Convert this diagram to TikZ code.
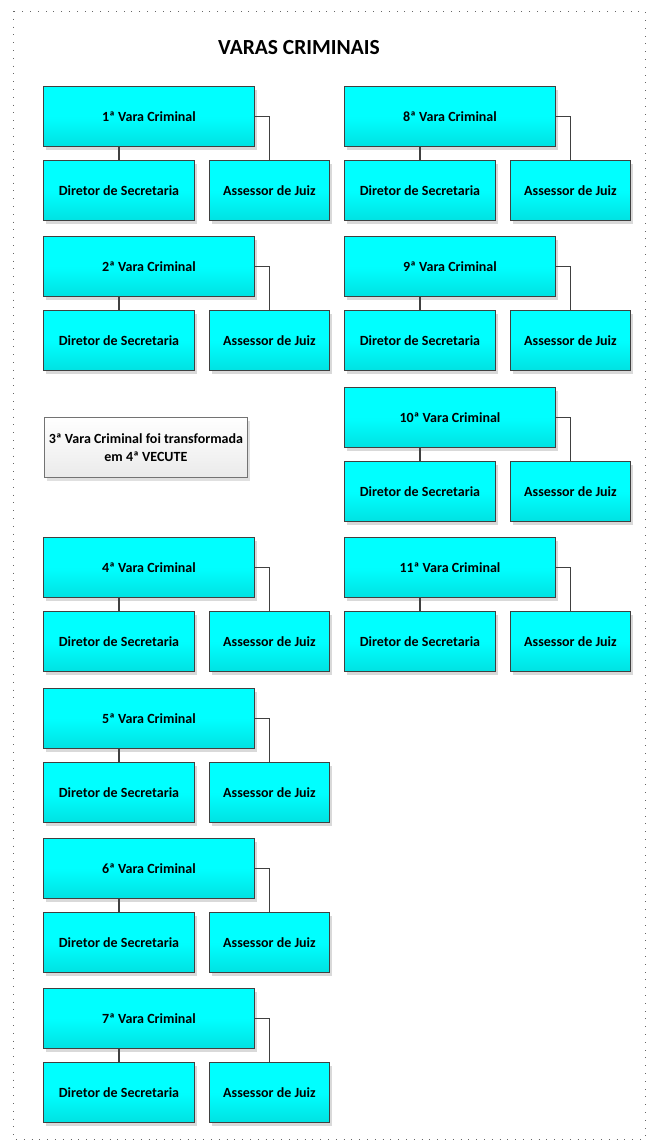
\documentclass[tikz,border=0pt]{standalone}
\usepackage{fontspec}
\setmainfont{Carlito}
\usetikzlibrary{shadows}
\definecolor{boxtop}{RGB}{0,255,255}
\definecolor{boxbot}{RGB}{0,226,226}
\definecolor{edge}{RGB}{64,64,64}
\begin{document}
\begin{tikzpicture}[x=1pt,y=-1pt,
  base/.style={draw=edge,line width=0.9pt,anchor=north west,inner sep=0pt,align=center,
    font=\fontsize{14}{16}\selectfont\bfseries,
    top color=boxtop,bottom color=boxbot,middle color=boxtop,
    drop shadow={shadow xshift=3pt,shadow yshift=-4pt,fill=black!15,opacity=1}},
  vara/.style={base,minimum width=211pt,minimum height=60pt},
  dir/.style={base,minimum width=151pt,minimum height=60pt},
  ass/.style={base,minimum width=120pt,minimum height=60pt},
  note/.style={draw=black!55,line width=0.8pt,anchor=north west,inner sep=0pt,align=center,
    font=\fontsize{14}{18}\selectfont\bfseries,top color=white,bottom color=black!8,
    minimum width=203pt,minimum height=60pt,
    drop shadow={shadow xshift=3pt,shadow yshift=-4pt,fill=black!12,opacity=1}},
  link/.style={draw=edge,line width=1.6pt}]
\useasboundingbox (0,0) rectangle (653,1144);
\draw[black!60,line width=0.8pt,dash pattern=on 0.8pt off 7pt] (13,11) rectangle (645,1139);
\node[font=\fontsize{21.5}{24}\selectfont\bfseries] (title) at (299,48) {VARAS CRIMINAIS};
% left column
\foreach \n/\y in {1/86,2/236,4/537,5/688,6/838,7/988}{
  \node[vara] (v\n) at (43,\y) {\n\textordfeminine\ Vara Criminal};
  \node[dir] (d\n) at (43,\y+74) {Diretor de Secretaria};
  \node[ass] (a\n) at (209,\y+74) {Assessor de Juiz};
  \draw[link] (d\n.north) -- (d\n.north |- v\n.south);
  \draw[link] (v\n.east) -| (a\n.north);
}
% right column
\foreach \n/\y in {8/86,9/236,10/387,11/537}{
  \node[vara] (v\n) at (344,\y) {\n\textordfeminine\ Vara Criminal};
  \node[dir] (d\n) at (344,\y+74) {Diretor de Secretaria};
  \node[ass] (a\n) at (510,\y+74) {Assessor de Juiz};
  \draw[link] (d\n.north) -- (d\n.north |- v\n.south);
  \draw[link] (v\n.east) -| (a\n.north);
}
\node[note] (n3) at (44,417) {3\textordfeminine\ Vara Criminal foi transformada\\em 4\textordfeminine\ VECUTE};
\end{tikzpicture}
\end{document}
